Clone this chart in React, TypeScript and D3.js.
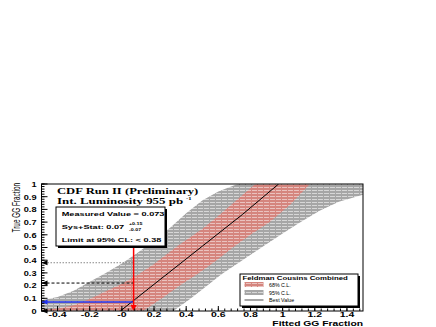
import React from 'react';
import * as d3 from 'd3';

// axis ticks
const xTicks = [-0.4, -0.2, 0, 0.2, 0.4, 0.6, 0.8, 1, 1.2, 1.4];
const xTickLabels = ['-0.4', '-0.2', '-0', '0.2', '0.4', '0.6', '0.8', '1', '1.2', '1.4'];
const yTicks = [0, 0.1, 0.2, 0.3, 0.4, 0.5, 0.6, 0.7, 0.8, 0.9, 1];
const yTickLabels = ['0', '0.1', '0.2', '0.3', '0.4', '0.5', '0.6', '0.7', '0.8', '0.9', '1'];

// belt edges, [fitted, true]
const cl95Upper: [number, number][] = [
  [-0.5, 0.085], [-0.4, 0.11], [-0.3, 0.16], [-0.2, 0.23], [-0.1, 0.3], [0, 0.375],
  [0.1, 0.46], [0.2, 0.555], [0.3, 0.655], [0.4, 0.77], [0.5, 0.87], [0.6, 0.94], [0.72, 1],
];
const cl95Lower: [number, number][] = [
  [0.32, 0], [0.42, 0.09], [0.5, 0.17], [0.62, 0.29], [0.75, 0.4], [0.88, 0.51],
  [1.0, 0.61], [1.1, 0.69], [1.23, 0.79], [1.35, 0.86], [1.5, 0.915],
];
const cl68Upper: [number, number][] = [
  [-0.5, 0.01], [-0.4, 0.02], [-0.3, 0.045], [-0.2, 0.095], [-0.1, 0.155], [0, 0.215],
  [0.1, 0.285], [0.2, 0.37], [0.34, 0.506], [0.5, 0.645], [0.62, 0.77], [0.72, 0.88], [0.83, 1],
];
const cl68Lower: [number, number][] = [
  [0.13, 0], [0.25, 0.1], [0.36, 0.2], [0.48, 0.3], [0.59, 0.4], [0.69, 0.5],
  [0.8, 0.6], [0.92, 0.7], [1.05, 0.84], [1.17, 1],
];
const bestValue: [number, number][] = [[-0.01, 0], [0.25, 0.26], [0.5, 0.51], [0.75, 0.76], [0.975, 1]];

const measured = 0.073;
const centralTrue = 0.07;
const limit68 = 0.22;
const limit95 = 0.38;
const lowerLimit = 0;

const SANS = '"Liberation Sans", Arial, Helvetica, sans-serif';
const SERIF = '"Liberation Serif", "Times New Roman", serif';

const W = 436;
const H = 327;

function Txt({ x, y, size, sx = 1, anchor = 'start', weight = 'bold', family = SANS, fill = '#000', rot = 0, children }: any) {
  return (
    <text
      transform={`translate(${x},${y})${rot ? ` rotate(${rot})` : ''} scale(${sx},1)`}
      fontSize={size}
      fontFamily={family}
      fontWeight={weight}
      textAnchor={anchor}
      fill={fill}
    >
      {children}
    </text>
  );
}

export default function App() {
  const x = d3.scaleLinear([-0.5, 1.5], [41.5, 363]);
  const y = d3.scaleLinear([0, 1], [311, 184]);
  const [x0, x1] = x.range();
  const [yb, yt] = y.range();

  const line = d3.line<[number, number]>().x(d => x(d[0])).y(d => y(d[1]));

  const band = (upper: [number, number][], lower: [number, number][]) => {
    const pts: [number, number][] = [[-0.5, 0], ...lower];
    const last = lower[lower.length - 1];
    if (last[1] < 1) pts.push([1.5, 1]);
    pts.push(...[...upper].reverse());
    return line(pts) + 'Z';
  };

  const xMinor = d3.range(-0.48, 1.5, 0.04);
  const yMinor = d3.range(0, 1.001, 0.02);

  const arrowLeft = (v: number, fill: string) => {
    const yy = y(v);
    return <path d={`M${x0},${yy}L${x0 + 6},${yy - 2.5}L${x0 + 6},${yy + 2.5}Z`} fill={fill} />;
  };

  const mx = x(measured);
  const boxX = 56, boxY = 207, boxW = 109, boxH = 39;
  const legX = 240, legY = 274, legW = 118, legH = 32;

  return (
    <svg width={W} height={H} style={{ position: 'absolute', left: 0, top: 0, background: '#fff' }}>
      <defs>
        <pattern id="hGray" width={6} height={3} patternUnits="userSpaceOnUse">
          <rect width={6} height={3} fill="#a6a6a6" />
          <rect x={0} y={1} width={5} height={1} fill="#fff" opacity={0.55} />
        </pattern>
        <pattern id="hRed" width={6} height={3} patternUnits="userSpaceOnUse">
          <rect width={6} height={3} fill="#d5857e" />
          <rect x={0} y={1} width={5} height={1} fill="#fff" opacity={0.5} />
        </pattern>
        <clipPath id="frame">
          <rect x={x0} y={yt} width={x1 - x0} height={yb - yt} />
        </clipPath>
      </defs>

      <g clipPath="url(#frame)">
        <path d={band(cl95Upper, cl95Lower)} fill="url(#hGray)" />
        <path d={band(cl68Upper, cl68Lower)} fill="url(#hRed)" />
        <path d={line(bestValue) ?? ''} fill="none" stroke="#000" strokeWidth={1} />
      </g>

      {/* limit lines */}
      <line x1={x0} x2={mx} y1={y(limit95)} y2={y(limit95)} stroke="#888" strokeDasharray="1.5,1.5" />
      <line x1={x0} x2={mx} y1={y(limit68)} y2={y(limit68)} stroke="#000" strokeDasharray="3,2" />
      <line x1={x0} x2={mx} y1={y(centralTrue)} y2={y(centralTrue)} stroke="#2233ee" strokeWidth={1.5} />
      {arrowLeft(limit95, '#000')}
      {arrowLeft(limit68, '#000')}
      {arrowLeft(centralTrue, '#2233ee')}
      {arrowLeft(lowerLimit, '#000')}
      <line x1={mx} x2={mx} y1={boxY + boxH} y2={yb - 5} stroke="#ff0000" strokeWidth={1.5} />
      <path d={`M${mx},${yb}L${mx - 3},${yb - 6}L${mx + 3},${yb - 6}Z`} fill="#ff0000" />

      {/* frame and axes */}
      <rect x={x0} y={yt} width={x1 - x0} height={yb - yt} fill="none" stroke="#000" strokeWidth={1} />
      {xTicks.map(v => (
        <line key={'xt' + v} x1={x(v)} x2={x(v)} y1={yb} y2={yb - 5} stroke="#000" />
      ))}
      {xMinor.map(v => (
        <line key={'xm' + v} x1={x(v)} x2={x(v)} y1={yb} y2={yb - 2.5} stroke="#000" />
      ))}
      {yTicks.map(v => (
        <line key={'yt' + v} x1={x0} x2={x0 + 6} y1={y(v)} y2={y(v)} stroke="#000" />
      ))}
      {yMinor.map(v => (
        <line key={'ym' + v} x1={x0} x2={x0 + 3} y1={y(v)} y2={y(v)} stroke="#000" />
      ))}
      {xTicks.map((v, i) => (
        <Txt key={'xl' + v} x={x(v)} y={317} size={7} sx={1.5} anchor="middle">{xTickLabels[i]}</Txt>
      ))}
      {yTicks.map((v, i) => (
        <Txt key={'yl' + v} x={36.5} y={y(v) + 2.8} size={8} sx={1.15} anchor="end">{yTickLabels[i]}</Txt>
      ))}
      <Txt x={x1} y={326} size={7.5} sx={1.38} anchor="end">Fitted GG Fraction</Txt>
      <Txt x={19.5} y={yt - 1} size={10} sx={0.64} anchor="end" weight="normal" rot={-90}>True GG Fraction</Txt>

      {/* experiment label */}
      <Txt x={57} y={194} size={8.6} sx={1.47} family={SERIF}>CDF Run II (Preliminary)</Txt>
      <Txt x={57} y={203.5} size={8.6} sx={1.5} family={SERIF}>Int. Luminosity 955 pb</Txt>
      <Txt x={186} y={199.5} size={5} sx={1.3} family={SERIF}>-1</Txt>

      {/* result box */}
      <rect x={boxX + 2} y={boxY + 2} width={boxW} height={boxH} fill="#000" />
      <rect x={boxX} y={boxY} width={boxW} height={boxH} fill="#fff" stroke="#000" />
      <Txt x={61.7} y={216.3} size={6} sx={1.53}>Measured Value = 0.073</Txt>
      <Txt x={61.7} y={229.3} size={6} sx={1.53}>Sys+Stat: 0.07</Txt>
      <Txt x={129} y={225} size={3.8} sx={1.4}>+0.15</Txt>
      <Txt x={129} y={230.5} size={3.8} sx={1.4}>-0.07</Txt>
      <Txt x={61.7} y={241.7} size={6} sx={1.53}>Limit at 95% CL: &lt; 0.38</Txt>

      {/* legend */}
      <rect x={legX + 2} y={legY + 2} width={legW} height={legH} fill="#000" />
      <rect x={legX} y={legY} width={legW} height={legH} fill="#fff" stroke="#000" />
      <Txt x={242.5} y={279.5} size={5.5} sx={1.42}>Feldman Cousins Combined</Txt>
      <rect x={244.5} y={282} width={19} height={5} fill="url(#hRed)" />
      <Txt x={269} y={286.5} size={5.3} weight="normal">68% C.L.</Txt>
      <rect x={244.5} y={290} width={19} height={5} fill="url(#hGray)" />
      <Txt x={269} y={294.5} size={5.3} weight="normal">95% C.L.</Txt>
      <line x1={244.5} x2={263.5} y1={300} y2={300} stroke="#888" strokeWidth={1.5} />
      <Txt x={269} y={302} size={5.3} weight="normal">Best Value</Txt>
    </svg>
  );
}
